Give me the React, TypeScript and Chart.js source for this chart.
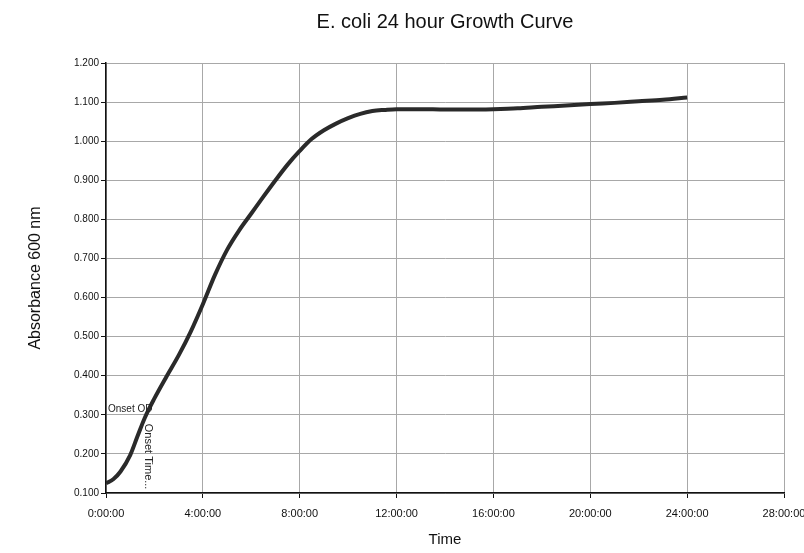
import React, { useEffect, useRef } from "react";
import { Chart, registerables } from "chart.js";

Chart.register(...registerables);

const titleText = "E. coli 24 hour Growth Curve";
const xAxisTitle = "Time";
const yAxisTitle = "Absorbance 600 nm";

const timeHours = [
  0, 0.3, 0.6, 1.0, 1.3, 1.6, 2.0, 2.5, 3.0, 3.5, 4.0, 4.5, 5.0, 5.5, 6.0, 6.5,
  7.0, 7.5, 8.0, 8.5, 9.0, 9.5, 10.0, 10.5, 11.0, 11.5, 12, 13, 14, 15, 16, 17,
  18, 19, 20, 21, 22, 23, 24,
];
const absorbance = [
  0.125, 0.135, 0.155, 0.197, 0.245, 0.292, 0.342, 0.398, 0.452, 0.513, 0.583,
  0.658, 0.722, 0.772, 0.815, 0.858, 0.9, 0.94, 0.975, 1.006, 1.028, 1.045,
  1.059, 1.07, 1.077, 1.08, 1.082, 1.082, 1.081, 1.081, 1.082, 1.084, 1.088,
  1.091, 1.095, 1.098, 1.102, 1.106, 1.112,
];

const xTickLabels = [
  "0:00:00", "4:00:00", "8:00:00", "12:00:00", "16:00:00", "20:00:00",
  "24:00:00", "28:00:00",
];
const yTickLabels = [
  "0.100", "0.200", "0.300", "0.400", "0.500", "0.600", "0.700", "0.800",
  "0.900", "1.000", "1.100", "1.200",
];

const onsetTime = 1.6;
const onsetOD = 0.3;
const onsetODLabel = "Onset OD";
const onsetTimeLabel = "Onset Time...";

const FONT = "'Liberation Sans', Arial, sans-serif";

const onsetPlugin = {
  id: "onsetMarks",
  afterDatasetsDraw(chart: any) {
    const { ctx, scales } = chart;
    const xs = scales.x;
    const ys = scales.y;
    const px = xs.getPixelForValue(onsetTime);
    const py = ys.getPixelForValue(onsetOD);
    const x0 = xs.getPixelForValue(0);
    ctx.save();
    ctx.fillStyle = "#222";
    ctx.font = `10px ${FONT}`;
    ctx.textAlign = "left";
    ctx.textBaseline = "alphabetic";
    ctx.fillText(onsetODLabel, x0 + 2, py - 3);
    ctx.translate(px + 3, py + 9);
    ctx.rotate(Math.PI / 2);
    ctx.font = `11px ${FONT}`;
    ctx.textBaseline = "middle";
    ctx.fillText(onsetTimeLabel, 0, 0);
    ctx.restore();
  },
};

export default function App() {
  const canvasRef = useRef<HTMLCanvasElement | null>(null);

  useEffect(() => {
    document.body.style.margin = "0";
    document.body.style.background = "#fff";
    const canvas = canvasRef.current;
    if (!canvas) return;
    const chart = new Chart(canvas, {
      type: "line",
      data: {
        datasets: [
          {
            label: "Absorbance",
            data: timeHours.map((t, i) => ({ x: t, y: absorbance[i] })),
            borderColor: "#2a2a2a",
            borderWidth: 4,
            pointRadius: 0,
            cubicInterpolationMode: "monotone",
            fill: false,
          },
        ],
      },
      options: {
        responsive: false,
        animation: false,
        layout: { padding: { top: 0, right: 20, bottom: 0, left: 0 } },
        plugins: {
          legend: { display: false },
          tooltip: { enabled: false },
          title: {
            display: true,
            fullSize: false,
            text: titleText,
            color: "#111",
            font: { family: FONT, size: 20, weight: "normal" },
            padding: { top: 10, bottom: 29 },
          },
        },
        scales: {
          x: {
            type: "linear",
            min: 0,
            max: 28,
            afterFit: (s: any) => {
              s.height = 60;
              s.paddingLeft = 0;
              s.paddingRight = 0;
            },
            ticks: {
              stepSize: 4,
              maxRotation: 0,
              autoSkip: false,
              color: "#111",
              padding: 9,
              font: { family: FONT, size: 11 },
              callback: (_v: any, i: number) => xTickLabels[i],
            },
            grid: {
              color: "#a8a8a8",
              tickColor: "#111",
              tickLength: 5,
              lineWidth: 1,
            },
            border: { color: "#111", width: 1.5 },
            title: {
              display: true,
              text: xAxisTitle,
              color: "#111",
              font: { family: FONT, size: 15, weight: "normal" },
              padding: { top: 0, bottom: 4 },
            },
          },
          y: {
            type: "linear",
            min: 0.1,
            max: 1.2,
            afterFit: (s: any) => {
              s.width = 106;
            },
            ticks: {
              stepSize: 0.1,
              color: "#111",
              padding: 2,
              font: { family: FONT, size: 10 },
              callback: (_v: any, i: number) => yTickLabels[i],
            },
            grid: {
              color: "#a8a8a8",
              tickColor: "#111",
              tickLength: 5,
              lineWidth: 1,
            },
            border: { color: "#111", width: 1.5 },
            title: {
              display: true,
              text: yAxisTitle,
              color: "#111",
              font: { family: FONT, size: 16, weight: "normal" },
              padding: { top: 26, bottom: 0 },
            },
          },
        },
      },
      plugins: [onsetPlugin],
    });
    return () => chart.destroy();
  }, []);

  return (
    <div style={{ width: 804, height: 553 }}>
      <canvas ref={canvasRef} width={804} height={553} />
    </div>
  );
}
